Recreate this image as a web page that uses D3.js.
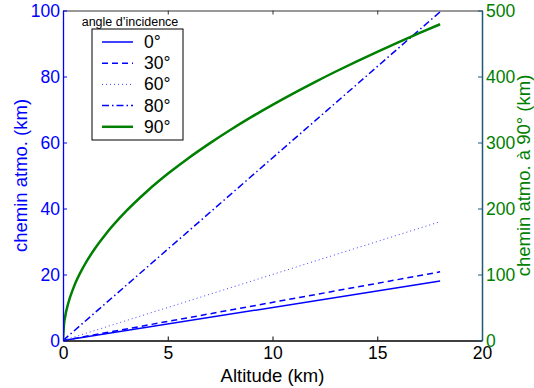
<!DOCTYPE html>
<html><head><meta charset="utf-8">
<script src="https://cdn.jsdelivr.net/npm/d3@7"></script>
<style>body{margin:0;background:#fff}svg{display:block;font-family:"Liberation Sans",Arial,sans-serif}</style>
</head><body><svg id="c" width="534" height="388"></svg>
<script>
const xTicks=[0,5,10,15,20];
const yLeftTicks=[0,20,40,60,80,100];
const yRightTicks=[0,100,200,300,400,500];
const angles=["0°","30°","60°","80°","90°"];
// straight lines: values at altitude 0 and 18 km (left axis, km)
const lineAlt=[0,18];
const path0=[0,18];
const path30=[0,20.8];
const path60=[0,36];
const path80=[0,99.6];
// 90° curve (right axis, km)
const alt90=[0,0.05,0.1,0.25,0.5,1,1.5,2,3,4,5,6,7,8,9,10,11,12,13,14,15,16,17,18];
const path90=[0,25.2,35.7,56.4,79.8,112.9,138.3,159.6,195.5,225.8,252.5,276.6,298.7,319.4,338.8,357.1,374.5,391.2,407.2,422.6,437.4,451.8,465.7,479.2];

const BLUE="#0000ff",GREEN="#008000",TEAL="#1d5a78";
const svg=d3.select("#c");
const L=63,R=482,T=10.5,B=340.5;
const x=d3.scaleLinear().domain([0,20]).range([L,R]);
const yl=d3.scaleLinear().domain([0,100]).range([B,T]);
const yr=d3.scaleLinear().domain([0,500]).range([B,T]);

svg.append("defs").append("clipPath").attr("id","clip").append("rect").attr("x",L).attr("y",T).attr("width",R-L).attr("height",B-T);

const g=svg.append("g").attr("clip-path","url(#clip)");
const series=[
 {v:path0,dash:null,w:1.5,c:BLUE},
 {v:path30,dash:"6,4",w:1.5,c:BLUE},
 {v:path60,dash:"1,3",w:1,c:"#4040ff"},
 {v:path80,dash:"7,3,1.5,3",w:1.5,c:BLUE}
];
const ln=d3.line().x(d=>x(d[0])).y(d=>yl(d[1]));
series.forEach(s=>{
  g.append("path").datum(lineAlt.map((a,i)=>[a,s.v[i]])).attr("d",ln)
   .attr("fill","none").attr("stroke",s.c).attr("stroke-width",s.w).attr("stroke-dasharray",s.dash);
});
const ln90=d3.line().x(d=>x(d[0])).y(d=>yr(d[1])).curve(d3.curveMonotoneX);
g.append("path").datum(alt90.map((a,i)=>[a,path90[i]])).attr("d",ln90)
 .attr("fill","none").attr("stroke",GREEN).attr("stroke-width",2.5);

// axes
const fs="17.5px";
const topAx=svg.append("g").attr("transform",`translate(0,${T})`).call(d3.axisTop(x).tickValues(xTicks).tickSizeInner(-4).tickSizeOuter(0).tickFormat(""));
topAx.select(".domain").attr("stroke","#333");topAx.selectAll("line").attr("stroke","#333");
const bot=svg.append("g").attr("transform",`translate(0,${B})`).call(d3.axisBottom(x).tickValues(xTicks).tickSizeInner(-4).tickSizeOuter(0).tickPadding(6));
bot.selectAll("text").attr("font-size",fs).attr("fill","#000").attr("font-family","Liberation Sans, Arial");
bot.select(".domain").attr("stroke","#000").attr("stroke-width",1.3);
const leftAx=svg.append("g").attr("transform",`translate(${L},0)`).call(d3.axisLeft(yl).tickValues(yLeftTicks).tickSizeInner(-4).tickSizeOuter(0).tickPadding(3));
leftAx.selectAll("text").attr("font-size",fs).attr("fill",BLUE).attr("font-family","Liberation Sans, Arial");
leftAx.select(".domain").attr("stroke",BLUE).attr("stroke-width",1.3);leftAx.selectAll("line").attr("stroke",BLUE);
const rightAx=svg.append("g").attr("transform",`translate(${R},0)`).call(d3.axisRight(yr).tickValues(yRightTicks).tickSizeInner(-4).tickSizeOuter(0).tickPadding(4));
rightAx.selectAll("text").attr("font-size",fs).attr("fill",GREEN).attr("font-family","Liberation Sans, Arial");
rightAx.select(".domain").attr("stroke",TEAL).attr("stroke-width",1.5);rightAx.selectAll("line").attr("stroke",TEAL);

// labels
svg.append("text").attr("x",(L+R)/2).attr("y",382).attr("text-anchor","middle").attr("font-size","18.5px").text("Altitude (km)");
svg.append("text").attr("transform",`translate(27,${(T+B)/2}) rotate(-90)`).attr("text-anchor","middle").attr("font-size","18.5px").attr("fill",BLUE).text("chemin atmo. (km)");
svg.append("text").attr("transform",`translate(530,${(T+B)/2}) rotate(-90)`).attr("text-anchor","middle").attr("font-size","18.5px").attr("fill",GREEN).text("chemin atmo. à 90° (km)");

// legend
const lg=svg.append("g");
lg.append("rect").attr("x",92).attr("y",29).attr("width",91).attr("height",111).attr("fill","#fff").attr("stroke","#000").attr("stroke-width",1);
lg.append("text").attr("x",130).attr("y",26).attr("text-anchor","middle").attr("font-size","12.5px").text("angle d’incidence");
const legStyles=[...series,{dash:null,w:2.5,c:GREEN}];
angles.forEach((a,i)=>{
  const yy=42+i*21.2;
  const s=legStyles[i];
  lg.append("line").attr("x1",102).attr("x2",133).attr("y1",yy).attr("y2",yy).attr("stroke",s.c).attr("stroke-width",s.w).attr("stroke-dasharray",s.dash);
  lg.append("text").attr("x",144).attr("y",yy+6).attr("font-size","17.5px").text(a);
});
</script></body></html>
